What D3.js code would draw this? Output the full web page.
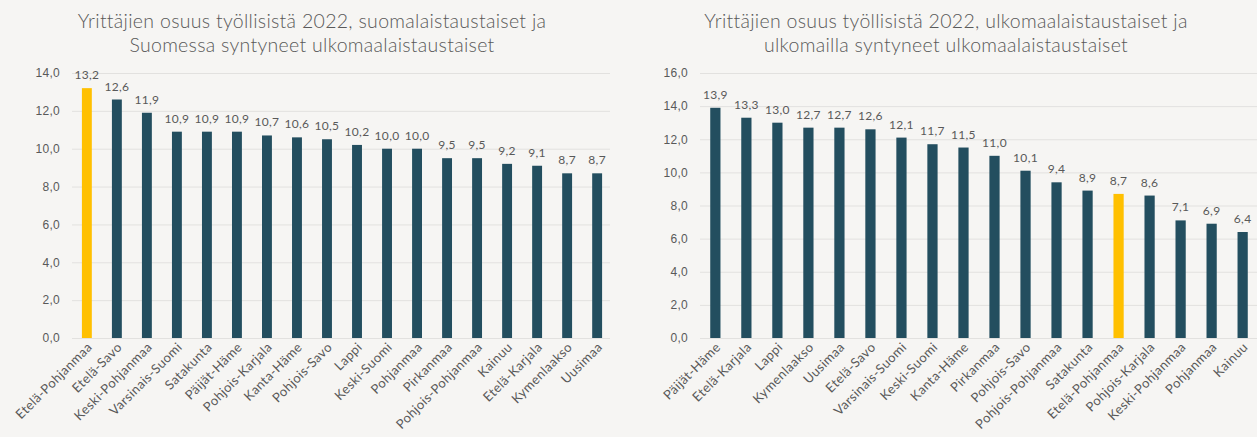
<!DOCTYPE html>
<html>
<head>
<meta charset="utf-8">
<script src="https://cdn.jsdelivr.net/npm/d3@7"></script>
<style>
  html, body { margin: 0; padding: 0; background: #f6f5f3; }
  svg { display: block; font-family: Lato, "Open Sans", sans-serif; }
  .title { fill: #595959; font-size: 19.5px; font-weight: 300; letter-spacing: 0.3px; }
  .tick text { fill: #595959; font-size: 12px; letter-spacing: 0.3px; }
  .xlab { fill: #595959; font-size: 13px; letter-spacing: 0.4px; }
  .val { fill: #595959; font-size: 12px; letter-spacing: 0.3px; }
</style>
</head>
<body>
<svg width="1257" height="437"></svg>
<script>
// Chart 1: suomalaistaustaiset ja Suomessa syntyneet ulkomaalaistaustaiset
const regions1 = ["Etelä-Pohjanmaa", "Etelä-Savo", "Keski-Pohjanmaa", "Varsinais-Suomi", "Satakunta",
  "Päijät-Häme", "Pohjois-Karjala", "Kanta-Häme", "Pohjois-Savo", "Lappi", "Keski-Suomi", "Pohjanmaa",
  "Pirkanmaa", "Pohjois-Pohjanmaa", "Kainuu", "Etelä-Karjala", "Kymenlaakso", "Uusimaa"];
const values1 = [13.2, 12.6, 11.9, 10.9, 10.9, 10.9, 10.7, 10.6, 10.5, 10.2, 10.0, 10.0, 9.5, 9.5, 9.2, 9.1, 8.7, 8.7];
const ticks1 = [0, 2, 4, 6, 8, 10, 12, 14];

// Chart 2: ulkomaalaistaustaiset ja ulkomailla syntyneet ulkomaalaistaustaiset
const regions2 = ["Päijät-Häme", "Etelä-Karjala", "Lappi", "Kymenlaakso", "Uusimaa", "Etelä-Savo",
  "Varsinais-Suomi", "Keski-Suomi", "Kanta-Häme", "Pirkanmaa", "Pohjois-Savo", "Pohjois-Pohjanmaa",
  "Satakunta", "Etelä-Pohjanmaa", "Pohjois-Karjala", "Keski-Pohjanmaa", "Pohjanmaa", "Kainuu"];
const values2 = [13.9, 13.3, 13.0, 12.7, 12.7, 12.6, 12.1, 11.7, 11.5, 11.0, 10.1, 9.4, 8.9, 8.7, 8.6, 7.1, 6.9, 6.4];
const ticks2 = [0, 2, 4, 6, 8, 10, 12, 14, 16];

const highlight = "Etelä-Pohjanmaa";
const fmt = v => d3.format(".1f")(v).replace(".", ",");

const svg = d3.select("svg");

function drawChart(opts) {
  const g = svg.append("g");

  // title
  g.append("text").attr("class", "title")
    .attr("x", opts.cx).attr("y", 28)
    .attr("text-anchor", "middle")
    .selectAll("tspan").data(opts.title).enter()
    .append("tspan")
    .attr("x", opts.cx)
    .attr("dy", (d, i) => i ? 24 : 0)
    .text(d => d);

  const x = d3.scaleBand().domain(opts.regions).range([opts.x0, opts.x1]).paddingInner(0.67).paddingOuter(0.33);
  const y = d3.scaleLinear().domain([0, d3.max(opts.ticks)]).range([338, 73]);

  // gridlines + y labels
  const yAxis = g.append("g")
    .attr("transform", `translate(${opts.x0},0)`)
    .call(d3.axisLeft(y).tickValues(opts.ticks).tickFormat(fmt).tickSize(-(opts.gx1 - opts.x0)).tickPadding(12));
  yAxis.select(".domain").remove();
  yAxis.selectAll(".tick line").attr("stroke", "#e2e1df").attr("stroke-width", 1);

  // bars
  const data = opts.regions.map((r, i) => ({ r, v: opts.values[i] }));
  g.selectAll(".bar").data(data).enter()
    .append("rect")
    .attr("x", d => x(d.r))
    .attr("width", x.bandwidth())
    .attr("y", d => y(d.v))
    .attr("height", d => y(0) - y(d.v))
    .attr("fill", d => d.r === highlight ? "#ffc000" : "#234e5f");

  // value labels
  g.selectAll(".val").data(data).enter()
    .append("text").attr("class", "val")
    .attr("x", d => x(d.r) + x.bandwidth() / 2)
    .attr("y", d => y(d.v) - 9)
    .attr("text-anchor", "middle")
    .text(d => fmt(d.v));

  // category labels
  g.selectAll(".xlab").data(data).enter()
    .append("text").attr("class", "xlab")
    .attr("text-anchor", "end")
    .attr("transform", d => `translate(${x(d.r) + x.bandwidth() / 2 + 6},${y(0) + 10}) rotate(-45)`)
    .text(d => d.r);
}

drawChart({
  title: ["Yrittäjien osuus työllisistä 2022, suomalaistaustaiset ja", "Suomessa syntyneet ulkomaalaistaustaiset"],
  cx: 312, x0: 72, x1: 612, gx1: 610,
  regions: regions1, values: values1, ticks: ticks1
});

drawChart({
  title: ["Yrittäjien osuus työllisistä 2022, ulkomaalaistaustaiset ja", "ulkomailla syntyneet ulkomaalaistaustaiset"],
  cx: 946, x0: 700, x1: 1258, gx1: 1257,
  regions: regions2, values: values2, ticks: ticks2
});
</script>
</body>
</html>
